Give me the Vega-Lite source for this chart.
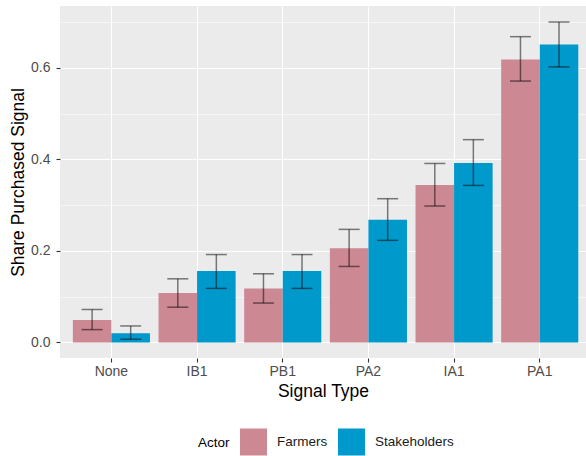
{
  "$schema": "https://vega.github.io/schema/vega-lite/v6.json",
  "autosize": {"type": "none"},
  "width": 526,
  "height": 352,
  "padding": {"left": 60, "top": 6, "right": 0, "bottom": 98},
  "background": "white",
  "config": {
    "font": "Liberation Sans",
    "view": {"fill": "#EBEBEB", "stroke": null}
  },
  "data": {
    "values": [
      {"signal": "None", "actor": "Farmers", "share": 0.049, "lo": 0.028, "hi": 0.072},
      {"signal": "None", "actor": "Stakeholders", "share": 0.020, "lo": 0.007, "hi": 0.036},
      {"signal": "IB1", "actor": "Farmers", "share": 0.108, "lo": 0.077, "hi": 0.139},
      {"signal": "IB1", "actor": "Stakeholders", "share": 0.156, "lo": 0.118, "hi": 0.192},
      {"signal": "PB1", "actor": "Farmers", "share": 0.118, "lo": 0.086, "hi": 0.150},
      {"signal": "PB1", "actor": "Stakeholders", "share": 0.156, "lo": 0.118, "hi": 0.192},
      {"signal": "PA2", "actor": "Farmers", "share": 0.206, "lo": 0.166, "hi": 0.247},
      {"signal": "PA2", "actor": "Stakeholders", "share": 0.268, "lo": 0.223, "hi": 0.314},
      {"signal": "IA1", "actor": "Farmers", "share": 0.344, "lo": 0.298, "hi": 0.391},
      {"signal": "IA1", "actor": "Stakeholders", "share": 0.392, "lo": 0.343, "hi": 0.443},
      {"signal": "PA1", "actor": "Farmers", "share": 0.618, "lo": 0.571, "hi": 0.668},
      {"signal": "PA1", "actor": "Stakeholders", "share": 0.651, "lo": 0.602, "hi": 0.700}
    ]
  },
  "encoding": {
    "x": {
      "field": "signal",
      "type": "nominal",
      "sort": ["None", "IB1", "PB1", "PA2", "IA1", "PA1"],
      "scale": {"paddingInner": 0.1, "paddingOuter": 0.12, "align": 0.625},
      "axis": {
        "title": "Signal Type",
        "titleFontSize": 17.5,
        "titleFontWeight": "normal",
        "titleColor": "#000000",
        "titleBaseline": "alphabetic",
        "titleY": 38,
        "labelAngle": 0,
        "labelFontSize": 14,
        "labelColor": "#4D4D4D",
        "labelBaseline": "alphabetic",
        "labelPadding": 13.4,
        "tickSize": 4,
        "tickColor": "#333333",
        "tickWidth": 1.1,
        "domain": false,
        "grid": true,
        "gridColor": "#FFFFFF",
        "gridWidth": 1.1,
        "bandPosition": 0.5
      }
    },
    "xOffset": {
      "field": "actor",
      "type": "nominal",
      "scale": {"paddingInner": 0, "paddingOuter": 0}
    }
  },
  "layer": [
    {
      "mark": {"type": "bar"},
      "encoding": {
        "y": {
          "field": "share",
          "type": "quantitative",
          "scale": {"domain": [-0.034, 0.735], "nice": false, "zero": false},
          "axis": {
            "title": "Share Purchased Signal",
            "titleFontSize": 17.5,
            "titleFontWeight": "normal",
            "titleColor": "#000000",
            "titleBaseline": "alphabetic",
            "titleX": -36.5,
            "titleY": 176,
            "titleAngle": -90,
            "values": [0, 0.1, 0.2, 0.3, 0.4, 0.5, 0.6, 0.7],
            "labelExpr": "round(datum.value * 10) % 2 === 0 ? format(datum.value, '.1f') : ''",
            "labelFontSize": 14,
            "labelColor": "#4D4D4D",
            "labelPadding": 6,
            "tickSize": 4,
            "tickColor": "#333333",
            "tickWidth": 1.1,
            "tickOpacity": {"condition": {"test": "round(datum.value * 10) % 2 === 0", "value": 1}, "value": 0},
            "domain": false,
            "grid": true,
            "gridColor": "#FFFFFF",
            "gridWidth": {"condition": {"test": "round(datum.value * 10) % 2 === 0", "value": 1.1}, "value": 0.55}
          }
        },
        "fill": {
          "field": "actor",
          "type": "nominal",
          "scale": {"domain": ["Farmers", "Stakeholders"], "range": ["#CC8893", "#0099CC"]},
          "legend": {
            "title": "Actor",
            "orient": "none",
            "legendX": 138,
            "legendY": 422.5,
            "direction": "horizontal",
            "titleOrient": "left",
            "titleFontSize": 13.5,
            "titleFontWeight": "normal",
            "titleColor": "#000000",
            "titleBaseline": "middle",
            "titlePadding": 10,
            "labelFontSize": 13.5,
            "labelColor": "#1A1A1A",
            "labelOffset": 10,
            "columnPadding": 10,
            "symbolType": "square",
            "symbolSize": 729,
            "symbolStrokeWidth": 0,
            "padding": 0
          }
        }
      }
    },
    {
      "mark": {"type": "rule", "color": "#000000", "opacity": 0.5, "strokeWidth": 1.5},
      "encoding": {
        "y": {"field": "lo", "type": "quantitative"},
        "y2": {"field": "hi"}
      }
    },
    {
      "mark": {"type": "tick", "color": "#000000", "opacity": 0.5, "thickness": 1.5, "size": 21},
      "encoding": {
        "y": {"field": "lo", "type": "quantitative"}
      }
    },
    {
      "mark": {"type": "tick", "color": "#000000", "opacity": 0.5, "thickness": 1.5, "size": 21},
      "encoding": {
        "y": {"field": "hi", "type": "quantitative"}
      }
    }
  ]
}
